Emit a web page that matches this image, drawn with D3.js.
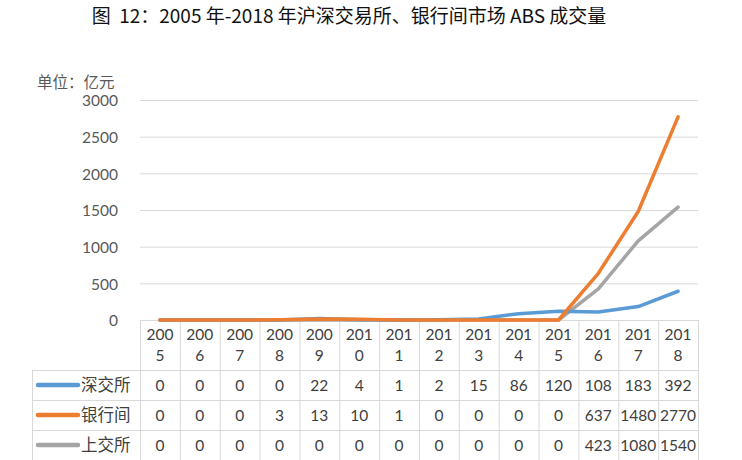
<!DOCTYPE html>
<html><head><meta charset="utf-8">
<script src="https://cdn.jsdelivr.net/npm/d3@7"></script>
<style>
html,body{margin:0;padding:0;background:#fff;}
svg{display:block;}
</style></head>
<body>
<svg id="c" width="742" height="460"></svg>
<script>
const years = ["2005","2006","2007","2008","2009","2010","2011","2012","2013","2014","2015","2016","2017","2018"];
const seriesNames = ["深交所","银行间","上交所"];
const szse = [0,0,0,0,22,4,1,2,15,86,120,108,183,392];
const interbank = [0,0,0,3,13,10,1,0,0,0,0,637,1480,2770];
const sse = [0,0,0,0,0,0,0,0,0,0,0,423,1080,1540];
const yTicks = [0,500,1000,1500,2000,2500,3000];
const colors = ["#5B9BD5","#ED7D31","#A5A5A5"];
const title = "图\u00A0\u00A012：2005 年-2018 年沪深交易所、银行间市场 ABS 成交量";
const unitLabel = "单位：亿元";

const series = [szse, interbank, sse];
const numFont = "Lato, 'Noto Sans CJK SC', sans-serif";
const cjkFont = "'Noto Sans CJK SC', sans-serif";

const svg = d3.select("#c");
const x = d3.scaleBand().domain(years).range([140, 698]);
const y = d3.scaleLinear().domain([0, 3000]).range([320, 100]);
const cx = d => x(d) + x.bandwidth()/2;

// title
svg.append("text").attr("x", 349).attr("y", 23).attr("text-anchor","middle")
  .attr("font-family", cjkFont).attr("font-size", 19).attr("fill","#111")
  .text(title);

// unit
svg.append("text").attr("x", 37).attr("y", 88)
  .attr("font-family", cjkFont).attr("font-size", 15.5).attr("fill","#595959")
  .text(unitLabel);

// gridlines
svg.append("g").selectAll("line").data(yTicks.filter(t=>t>0)).join("line")
  .attr("x1",140).attr("x2",698).attr("y1",d=>y(d)+0.5).attr("y2",d=>y(d)+0.5)
  .attr("stroke","#d9d9d9").attr("stroke-width",1);

// y axis labels
const yAxis = d3.axisLeft(y).tickValues(yTicks).tickFormat(d3.format("d")).tickSize(0).tickPadding(0);
const ga = svg.append("g").attr("transform","translate(118,1)").call(yAxis);
ga.select(".domain").remove();
ga.selectAll("text").attr("font-family", numFont).attr("font-size",15.5).attr("fill","#595959");

// table
const tbl = svg.append("g");
const gridC = "#d9d9d9";
tbl.append("line").attr("x1",140).attr("x2",698).attr("y1",320.5).attr("y2",320.5).attr("stroke",gridC);
[370,400,430,460].forEach(v=>{
  tbl.append("line").attr("x1",32).attr("x2",698).attr("y1",v+0.5).attr("y2",v+0.5).attr("stroke",gridC);
});
const vx = years.map(d=>x(d)).concat([x.range()[1]]);
vx.forEach(v=>{
  tbl.append("line").attr("x1",v+0.5).attr("x2",v+0.5).attr("y1",320).attr("y2",460).attr("stroke",gridC);
});
tbl.append("line").attr("x1",32.5).attr("x2",32.5).attr("y1",370).attr("y2",460).attr("stroke",gridC);

// header
years.forEach(yr=>{
  tbl.append("text").attr("x",cx(yr)).attr("y",340).attr("text-anchor","middle")
    .attr("font-family",numFont).attr("font-size",15.5).attr("fill","#404040").text(yr.slice(0,3));
  tbl.append("text").attr("x",cx(yr)).attr("y",361).attr("text-anchor","middle")
    .attr("font-family",numFont).attr("font-size",15.5).attr("fill","#404040").text(yr.slice(3));
});
// rows
series.forEach((s,i)=>{
  const rc = 385 + i*30;
  tbl.append("line").attr("x1",38).attr("x2",78).attr("y1",rc).attr("y2",rc)
    .attr("stroke",colors[i]).attr("stroke-width",4.5).attr("stroke-linecap","round");
  tbl.append("text").attr("x",81).attr("y",rc+6)
    .attr("font-family",cjkFont).attr("font-size",16.5).attr("fill","#404040").text(seriesNames[i]);
  s.forEach((v,j)=>{
    tbl.append("text").attr("x",cx(years[j])).attr("y",rc+5.5).attr("text-anchor","middle")
      .attr("font-family",numFont).attr("font-size",15.5).attr("fill","#404040").text(v);
  });
});

// lines
const line = d3.line().x((d,i)=>cx(years[i])).y(d=>y(d));
[2,0,1].forEach(i=>{
  svg.append("path").datum(series[i]).attr("d",line)
    .attr("fill","none").attr("stroke",colors[i]).attr("stroke-width",3.5)
    .attr("stroke-linejoin","round").attr("stroke-linecap","round");
});
</script>
</body></html>
